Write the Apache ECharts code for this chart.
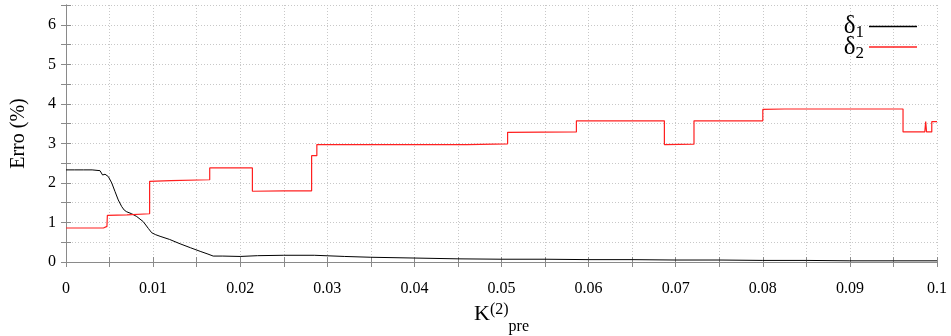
<!DOCTYPE html>
<html><head><meta charset="utf-8">
<script src="https://cdn.jsdelivr.net/npm/echarts@6/dist/echarts.min.js"></script>
<style>html,body{margin:0;padding:0;background:#fff}#c{width:951px;height:336px}</style>
</head><body><div id="c"></div>
<script>
// δ1 (black) — [K, Erro %]
const delta1 = [
  [0,2.33],[0.001,2.33],[0.002,2.33],[0.003,2.33],[0.0039,2.31],[0.0042,2.2],[0.00448,2.22],[0.00486,2.16],
  [0.00525,2.0],[0.00563,1.78],[0.006,1.57],[0.0064,1.4],[0.0067,1.31],[0.00697,1.27],[0.00754,1.22],[0.00812,1.15],
  [0.00887,1.02],[0.00945,0.85],[0.00984,0.74],[0.0103,0.69],[0.0108,0.65],[0.0119,0.57],[0.0131,0.46],[0.0143,0.36],
  [0.0154,0.27],[0.0163,0.2],[0.0169,0.15],[0.018,0.15],[0.02,0.14],
  [0.022,0.16],[0.025,0.17],[0.0285,0.17],[0.032,0.14],[0.035,0.12],[0.04,0.1],[0.045,0.08],[0.05,0.07],
  [0.055,0.07],[0.06,0.06],[0.065,0.06],[0.07,0.05],[0.075,0.05],[0.08,0.04],[0.085,0.04],[0.09,0.03],[0.095,0.03],[0.1,0.03]
];
// δ2 (red) — step levels [K, Erro %]
const delta2 = [
  [0,0.86],[0.0043,0.86],[0.0047,0.9],[0.00475,1.18],[0.007,1.19],[0.0096,1.22],[0.0096,2.04],[0.012,2.06],[0.0165,2.08],
  [0.0165,2.38],[0.0214,2.38],[0.0214,1.79],[0.025,1.8],[0.0282,1.8],[0.0282,2.69],[0.0288,2.69],[0.0288,2.97],
  [0.046,2.97],[0.046,2.99],[0.0507,2.99],[0.0507,3.28],[0.0586,3.29],[0.0586,3.57],[0.0687,3.57],[0.0687,2.97],
  [0.0721,2.98],[0.0721,3.57],[0.08,3.57],[0.08,3.86],[0.0825,3.87],[0.0961,3.87],[0.0961,3.29],[0.0986,3.29],
  [0.0987,3.55],[0.0988,3.29],[0.0994,3.29],[0.0994,3.55],[0.1,3.55]
];
const seriesNames = ['d1','d2'];

const chart = echarts.init(document.getElementById('c'));
const serif = '"Liberation Serif","DejaVu Serif",serif';
const gridLine = {show:true, lineStyle:{color:'#c8c8c8', type:[1,2], width:1}};
const frame = {show:true, lineStyle:{color:'#8a8a8a', width:1}};
const tick = {show:true, inside:true, length:5, lineStyle:{color:'#8a8a8a'}};
chart.setOption({
  animation:false,
  backgroundColor:'#fff',
  grid:{left:66, right:14, top:5, bottom:74, containLabel:false, outerBoundsMode:'none'},
  legend:{
    orient:'vertical', right:34, top:14, align:'right', itemGap:-7,
    itemWidth:48, itemHeight:1.5, icon:'rect', padding:0,
    textStyle:{fontFamily:serif, fontSize:24, color:'#000',
      rich:{a:{fontFamily:serif,fontSize:25,color:'#000',verticalAlign:'middle'},
            s:{fontFamily:serif,fontSize:17,color:'#000',verticalAlign:'bottom',padding:[13,0,0,0]}}},
    formatter:n => n==='d1' ? '{a|δ}{s|1}' : '{a|δ}{s|2}',
    data:seriesNames
  },
  xAxis:[{
    type:'value', min:0, max:0.1, interval:0.005,
    axisLine:frame, axisTick:tick, splitLine:gridLine,
    axisLabel:{fontFamily:serif, fontSize:16, color:'#000', margin:19,
      formatter:v => (Math.round(v*1000)%10===0) ? String(+v.toFixed(2)) : ''},
    name:'{k|K}{sup|(2)}{sub|pre}', nameLocation:'middle', nameGap:34,
    nameTextStyle:{rich:{
      k:{fontFamily:serif,fontSize:22,color:'#000',verticalAlign:'bottom',padding:[0,0,10,0]},
      sup:{fontFamily:serif,fontSize:16,color:'#000',verticalAlign:'bottom',padding:[0,0,17,0]},
      sub:{fontFamily:serif,fontSize:16,color:'#000',verticalAlign:'bottom'}}}
  },{
    type:'value', position:'top', min:0, max:0.1, interval:0.005,
    axisLine:frame, axisTick:tick, axisLabel:{show:false}, splitLine:{show:false}
  }],
  yAxis:[{
    type:'value', min:0, max:6.5, interval:0.5,
    axisLine:frame, axisTick:tick, splitLine:gridLine,
    axisLabel:{fontFamily:serif, fontSize:16, color:'#000', margin:10,
      formatter:v => (Math.abs(v-Math.round(v))<1e-9 && v<=6) ? String(v) : ''},
    name:'Erro (%)', nameLocation:'middle', nameGap:37,
    nameTextStyle:{fontFamily:serif, fontSize:20, color:'#000'}
  },{
    type:'value', position:'right', min:0, max:6.5, interval:0.5,
    axisLine:frame, axisTick:tick, axisLabel:{show:false}, splitLine:{show:false}
  }],
  series:[
    {name:'d1', type:'line', data:delta1, showSymbol:false, symbol:'none',
     lineStyle:{color:'#000', width:1}, itemStyle:{color:'#000'}},
    {name:'d2', type:'line', data:delta2, showSymbol:false, symbol:'none',
     lineStyle:{color:'#ff2020', width:1.2}, itemStyle:{color:'#ff2020'}}
  ]
});
</script></body></html>
